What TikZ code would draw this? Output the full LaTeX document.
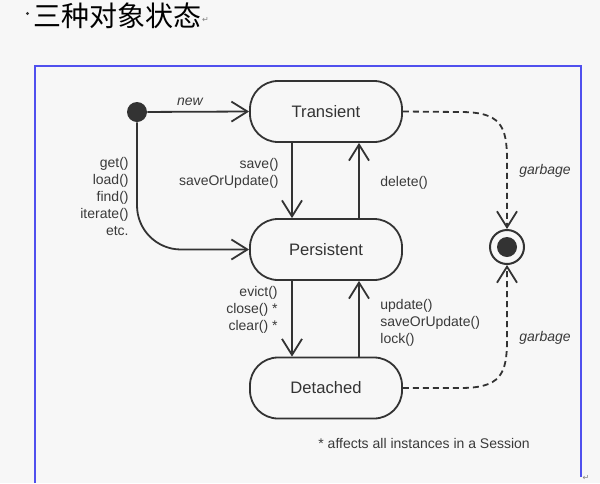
\documentclass[tikz,border=0pt]{standalone}
\usepackage{fontspec}
\setmainfont{Liberation Sans}
\newfontfamily\cjk{Noto Sans CJK SC}
\newfontfamily\dvs{DejaVu Sans}
\usetikzlibrary{arrows.meta}
\definecolor{bg}{HTML}{F7F7F7}
\definecolor{ink}{HTML}{333333}
\definecolor{txt}{HTML}{3A3A3A}
\definecolor{frame}{HTML}{5050EE}
\tikzset{
  state/.style={draw=ink, line width=0.9pt, rounded corners=14pt, minimum width=76pt,
    minimum height=30.5pt, inner sep=0pt, text=ink, font=\fontsize{8.3}{10}\selectfont},
  arr/.style={draw=ink, line width=0.9pt, -{Straight Barb[length=8pt,width=10pt,line width=0.9pt]}},
  darr/.style={arr, dash pattern=on 3pt off 2pt},
  lbl/.style={text=txt, inner sep=0pt, font=\fontsize{7}{8.5}\selectfont},
  ilbl/.style={lbl, font=\fontsize{7}{8.5}\selectfont\itshape}
}
\begin{document}
\begin{tikzpicture}[x=0.5pt,y=-0.5pt]
\fill[bg] (0,0) rectangle (600,483);
\useasboundingbox (0,0) rectangle (600,483);
% frame
\draw[frame, line width=1pt] (35,483) -- (35,66) -- (581,66) -- (581,477);
% title
\node[circle, fill=black!80, minimum size=1.7pt, inner sep=0pt] (bullet) at (27.5,13.5) {};
\node[anchor=west, inner sep=0pt, text=black, font=\cjk\fontsize{14}{16}\selectfont] (title) at (33,16) {三种对象状态};
\node[anchor=west, inner sep=0pt, text=gray, font=\dvs\fontsize{4}{5}\selectfont] (ret1) at ([yshift=-2pt]title.east) {↵};
\node[inner sep=0pt, text=gray, font=\dvs\fontsize{4}{5}\selectfont] (ret2) at (586,478) {↵};
% states
\node[state] (T) at (326,111.5) {Transient};
\node[state] (P) at (326,249.5) {Persistent};
\node[state] (D) at (326,388) {Detached};
\coordinate (cL) at (292,0);
\coordinate (cR) at (359,0);
% initial and final
\node[circle, fill=ink, minimum size=10pt, inner sep=0pt] (init) at (137,112) {};
\node[circle, draw=ink, line width=1pt, minimum size=17pt, inner sep=0pt] (final) at (507,247) {};
\node[circle, fill=ink, minimum size=10pt, inner sep=0pt] (finalin) at (final) {};
% transitions
\draw[arr] (init) -- (T.west);
\draw[arr, rounded corners=22pt] (init) |- (P.west);
\draw[arr] (T.south -| cL) -- (P.north -| cL);
\draw[arr] (P.north -| cR) -- (T.south -| cR);
\draw[arr] (P.south -| cL) -- (D.north -| cL);
\draw[arr] (D.north -| cR) -- (P.south -| cR);
\draw[darr] (T.east) -- (460,112) .. controls (500,112) and (507,125) .. (507,160) -- (final.north);
\draw[darr] (D.east) -- (460,388) .. controls (500,388) and (507,375) .. (507,340) -- (final.south);
% labels
\node[ilbl] (lnew) at (190,102) {new};
\node[lbl, anchor=east, align=right] (lget) at (129,196) {get()\\load()\\find()\\iterate()\\etc.};
\node[lbl, anchor=east, align=right] (lsave) at (279,173) {save()\\saveOrUpdate()};
\node[lbl, anchor=west, align=left] (ldel) at (380,183) {delete()};
\node[lbl, anchor=east, align=right] (lev) at (278,310) {evict()\\close() *\\clear() *};
\node[lbl, anchor=west, align=left] (lupd) at (380,323) {update()\\saveOrUpdate()\\lock()};
\node[ilbl, anchor=west] (lg1) at (519,171) {garbage};
\node[ilbl, anchor=west] (lg2) at (519,338) {garbage};
\node[lbl, anchor=west] (note) at (318,443) {* affects all instances in a Session};
\end{tikzpicture}
\end{document}
